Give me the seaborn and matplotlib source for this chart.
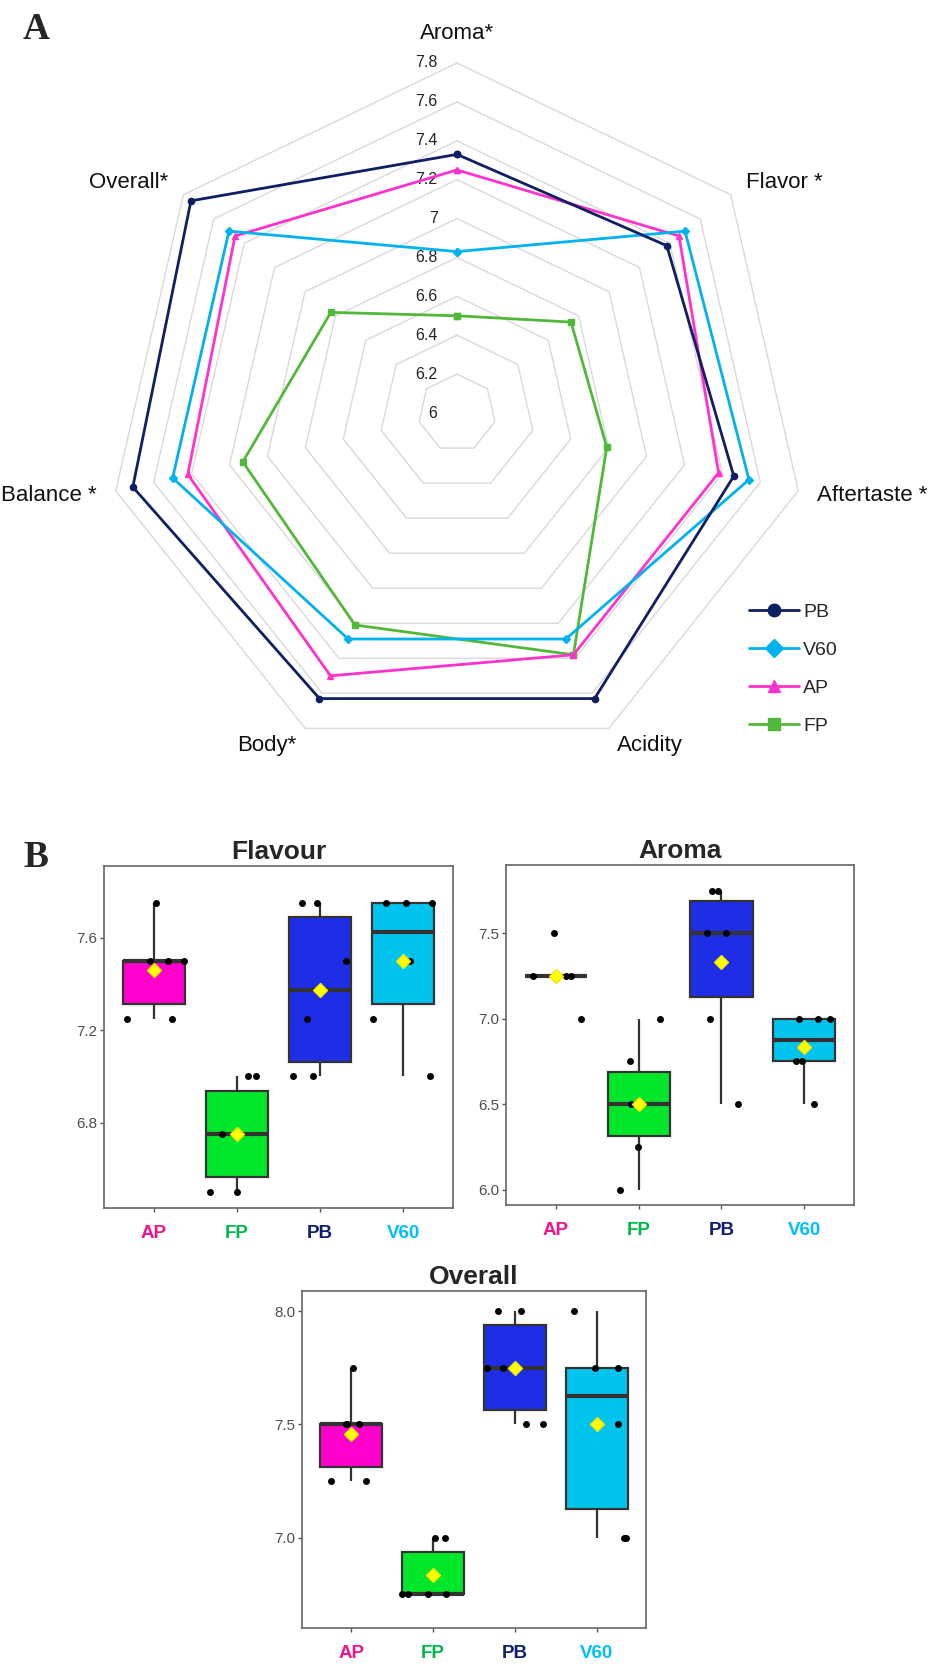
import numpy as np
import pandas as pd
import matplotlib
matplotlib.use('Agg')
import matplotlib.pyplot as plt
import seaborn as sns

sns.set_style('ticks')
plt.rcParams['font.family'] = ['Liberation Sans', 'DejaVu Sans']

# ---- panel A: radar of mean cupping scores ----
attributes = ['Aroma', 'Flavor', 'Aftertaste', 'Acidity', 'Body', 'Balance', 'Overall']
attr_labels = ['Aroma*', 'Flavor *', 'Aftertaste *', 'Acidity', 'Body*', 'Balance *', 'Overall*']
radar_pb = [7.33, 7.38, 7.46, 7.63, 7.63, 7.71, 7.75]
radar_v60 = [6.83, 7.50, 7.54, 7.29, 7.29, 7.50, 7.50]
radar_ap = [7.25, 7.46, 7.38, 7.38, 7.50, 7.42, 7.46]
radar_fp = [6.50, 6.75, 6.79, 7.38, 7.21, 7.13, 6.83]
radar_ticks = [6.0, 6.2, 6.4, 6.6, 6.8, 7.0, 7.2, 7.4, 7.6, 7.8]
radar_tick_labels = ['6', '6.2', '6.4', '6.6', '6.8', '7', '7.2', '7.4', '7.6', '7.8']

# ---- panel B: individual scores per brewing method ----
methods = ['AP', 'FP', 'PB', 'V60']
flavour_ap = [7.25, 7.25, 7.5, 7.5, 7.5, 7.75]
flavour_fp = [6.5, 6.5, 6.75, 6.75, 7.0, 7.0]
flavour_pb = [7.0, 7.0, 7.25, 7.5, 7.75, 7.75]
flavour_v60 = [7.0, 7.25, 7.5, 7.75, 7.75, 7.75]
aroma_ap = [7.0, 7.25, 7.25, 7.25, 7.25, 7.5]
aroma_fp = [6.0, 6.25, 6.5, 6.5, 6.75, 7.0]
aroma_pb = [6.5, 7.0, 7.5, 7.5, 7.75, 7.75]
aroma_v60 = [6.5, 6.75, 6.75, 7.0, 7.0, 7.0]
overall_ap = [7.25, 7.25, 7.5, 7.5, 7.5, 7.75]
overall_fp = [6.75, 6.75, 6.75, 6.75, 7.0, 7.0]
overall_pb = [7.5, 7.5, 7.75, 7.75, 8.0, 8.0]
overall_v60 = [7.0, 7.0, 7.5, 7.75, 7.75, 8.0]

RADAR_COLORS = {'PB': '#0f1f63', 'V60': '#00b2f0', 'AP': '#ff33cc', 'FP': '#52b83a'}
RADAR_MARKERS = {'PB': 'o', 'V60': 'D', 'AP': '^', 'FP': 's'}
BOX_COLORS = {'AP': '#ff00cc', 'FP': '#00e62a', 'PB': '#1f2ee6', 'V60': '#00c4ee'}
LABEL_COLORS = ['#f0148c', '#00b84a', '#0d1f6e', '#00bfff']

fig = plt.figure(figsize=(9.36, 16.66), dpi=100)

# radar
ax = fig.add_axes([0.1143, 0.5420, 0.7479, 0.4202], projection='polar')
ax.set_theta_zero_location('N')
ax.set_theta_direction(-1)
ax.set_ylim(6.0, 7.8)
ax.grid(False)
ax.spines['polar'].set_visible(False)
ax.set_xticks([])
ax.set_yticks([])

angles = np.linspace(0, 2 * np.pi, len(attributes), endpoint=False)
closed = np.append(angles, angles[0])

for lv, lab in zip(radar_ticks, radar_tick_labels):
    if lv > radar_ticks[0]:
        ax.plot(closed, [lv] * len(closed), color='#d9d9d9', lw=1, clip_on=False, zorder=1)
    ax.annotate(lab, xy=(0, lv), xytext=(-14, 0), textcoords='offset points',
                ha='right', va='center', fontsize=11.5, color='#222222')

series = {'PB': radar_pb, 'V60': radar_v60, 'AP': radar_ap, 'FP': radar_fp}
handles = {}
for name in ['FP', 'AP', 'V60', 'PB']:
    vals = series[name] + series[name][:1]
    h, = ax.plot(closed, vals, color=RADAR_COLORS[name], lw=2, marker=RADAR_MARKERS[name],
                 ms=4.5, clip_on=False, zorder=3, label=name)
    handles[name] = h

for th, lab in zip(angles, attr_labels):
    s, c = np.sin(th), np.cos(th)
    ha = 'center' if abs(s) < 0.1 else ('left' if s > 0 else 'right')
    va = 'bottom' if c > 0.9 else 'center'
    ax.text(th, 7.9, lab, ha=ha, va=va, fontsize=16, color='#111111')

fig.legend([handles[n] for n in ['PB', 'V60', 'AP', 'FP']], ['PB', 'V60', 'AP', 'FP'],
           loc='upper left', bbox_to_anchor=(0.800, 1 - 603 / 1666), frameon=False,
           fontsize=14, handlelength=2.6, handletextpad=0.2, labelspacing=1.05,
           markerscale=2, borderpad=0, borderaxespad=0)

fig.text(23 / 936, 1 - 12 / 1666, 'A', family='Liberation Serif', weight='bold',
         fontsize=27, ha='left', va='top')
fig.text(23 / 936, 1 - 840 / 1666, 'B', family='Liberation Serif', weight='bold',
         fontsize=27, ha='left', va='top')

# box plots
panels = [
    ('Flavour', [flavour_ap, flavour_fp, flavour_pb, flavour_v60],
     [0.1111, 0.2749, 0.3729, 0.2053], (6.43, 7.91), [6.8, 7.2, 7.6], ['6.8', '7.2', '7.6']),
    ('Aroma', [aroma_ap, aroma_fp, aroma_pb, aroma_v60],
     [0.5406, 0.2767, 0.3718, 0.2041], (5.91, 7.90), [6.0, 6.5, 7.0, 7.5], ['6.0', '6.5', '7.0', '7.5']),
    ('Overall', [overall_ap, overall_fp, overall_pb, overall_v60],
     [0.3226, 0.0228, 0.3675, 0.2023], (6.60, 8.09), [7.0, 7.5, 8.0], ['7.0', '7.5', '8.0']),
]

np.random.seed(7)
for title, groups, rect, ylim, yt, ytl in panels:
    df = pd.DataFrame({
        'method': np.repeat(methods, [len(g) for g in groups]),
        'score': np.concatenate(groups),
    })
    bx = fig.add_axes(rect)
    sns.boxplot(data=df, x='method', y='score', hue='method', order=methods,
                hue_order=methods, palette=BOX_COLORS, legend=False, saturation=1,
                width=0.75, showfliers=False, showcaps=False, linecolor='#333333',
                linewidth=1.6, medianprops={'linewidth': 3, 'color': '#333333'},
                showmeans=True,
                meanprops={'marker': 'D', 'markerfacecolor': '#ffff00',
                           'markeredgecolor': '#f5e600', 'markersize': 7, 'zorder': 6},
                ax=bx)
    sns.stripplot(data=df, x='method', y='score', order=methods, color='black',
                  size=5, jitter=0.38, zorder=4, ax=bx)
    bx.set_xlim(-0.6, 3.6)
    bx.set_ylim(*ylim)
    bx.set_yticks(yt)
    bx.set_yticklabels(ytl)
    bx.set_xlabel('')
    bx.set_ylabel('')
    bx.set_title(title, fontsize=19, weight='bold', pad=5)
    for sp in bx.spines.values():
        sp.set_color('#666666')
        sp.set_linewidth(1.2)
    bx.tick_params(axis='y', length=3, width=1, color='#555555', labelsize=11,
                   labelcolor='#4d4d4d', pad=2)
    bx.tick_params(axis='x', length=3, width=1, color='#555555', pad=9)
    for tl, col in zip(bx.get_xticklabels(), LABEL_COLORS):
        tl.set_color(col)
        tl.set_fontweight('bold')
        tl.set_fontsize(13.5)

fig.savefig('out.png', dpi=100)
